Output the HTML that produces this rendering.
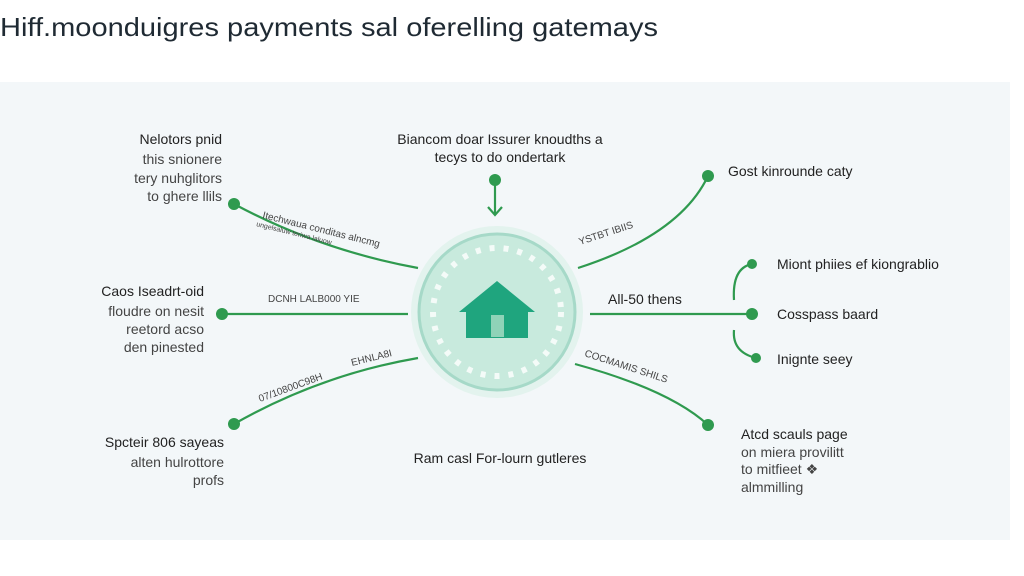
<!DOCTYPE html>
<html><head><meta charset="utf-8"><style>
html,body{margin:0;padding:0;width:1024px;height:576px;overflow:hidden;background:#fff;font-family:"Liberation Sans",sans-serif;}
svg{position:absolute;left:0;top:0}
</style></head><body>
<svg width="1024" height="576" viewBox="0 0 1024 576" font-family="Liberation Sans, sans-serif">
<rect x="0" y="0" width="1024" height="576" fill="#fff"/>
<rect x="0" y="82" width="1010" height="458" fill="#f3f7f9"/>
<text x="0" y="36" font-size="26" fill="#1f2a33" textLength="658" lengthAdjust="spacingAndGlyphs">Hiff.moonduigres payments sal oferelling gatemays</text>
<g stroke="#2f9a4f" stroke-width="2.2" fill="none">
<path d="M234 204 Q320 250 418 268"/>
<line x1="222" y1="314" x2="408" y2="314"/>
<path d="M234 424 Q320 375 418 358"/>
<path d="M578 268 Q680 235 708 176"/>
<line x1="590" y1="314" x2="752" y2="314"/>
<path d="M575 364 Q670 390 708 425"/>
<path d="M752 264 Q732 268 734 300"/>
<path d="M734 330 Q732 352 756 358"/>
<line x1="495" y1="180" x2="495" y2="214"/>
<path d="M488 207 L495 215 L502 207"/>
</g>
<g fill="#2f9a4f">
<circle cx="234" cy="204" r="6"/><circle cx="222" cy="314" r="6"/><circle cx="234" cy="424" r="6"/>
<circle cx="708" cy="176" r="6"/><circle cx="752" cy="314" r="6"/><circle cx="708" cy="425" r="6"/>
<circle cx="752" cy="264" r="5"/><circle cx="756" cy="358" r="5"/><circle cx="495" cy="180" r="6"/>
</g>
<circle cx="497" cy="312" r="86" fill="#e3f3ee"/>
<circle cx="497" cy="312" r="78" fill="#c8eadd" stroke="#a6d9c8" stroke-width="3"/>
<circle cx="497" cy="312" r="64" fill="none" stroke="#f4fbf8" stroke-width="6" stroke-dasharray="5 9"/>
<path d="M459 312 L497 281 L535 312 L528 312 L528 338 L466 338 L466 312 Z" fill="#1fa57e"/>
<rect x="491" y="315" width="13" height="22" fill="#8fd3b8"/>
<g font-size="14" fill="#222">
<text x="222" y="144" text-anchor="end">Nelotors pnid</text>
<text x="222" y="164" text-anchor="end" fill="#444">this snionere</text>
<text x="222" y="183" text-anchor="end" fill="#444">tery nuhglitors</text>
<text x="222" y="201" text-anchor="end" fill="#444">to ghere llils</text>
<text x="204" y="296" text-anchor="end">Caos Iseadrt-oid</text>
<text x="204" y="316" text-anchor="end" fill="#444">floudre on nesit</text>
<text x="204" y="334" text-anchor="end" fill="#444">reetord acso</text>
<text x="204" y="352" text-anchor="end" fill="#444">den pinested</text>
<text x="224" y="447" text-anchor="end">Spcteir 806 sayeas</text>
<text x="224" y="467" text-anchor="end" fill="#444">alten hulrottore</text>
<text x="224" y="485" text-anchor="end" fill="#444">profs</text>
<text x="500" y="144" text-anchor="middle">Biancom doar Issurer knoudths a</text>
<text x="500" y="162" text-anchor="middle">tecys to do ondertark</text>
<text x="728" y="176">Gost kinrounde caty</text>
<text x="777" y="269">Miont phiies ef kiongrablio</text>
<text x="777" y="319">Cosspass baard</text>
<text x="777" y="364">Inignte seey</text>
<text x="608" y="304">All-50 thens</text>
<text x="500" y="463" text-anchor="middle">Ram casl For-lourn gutleres</text>
<text x="741" y="439">Atcd scauls page</text>
<text x="741" y="457" fill="#444">on miera provilitt</text>
<text x="741" y="474" fill="#444">to mitfieet ❖</text>
<text x="741" y="492" fill="#444">almmilling</text>
</g>
<g font-size="10" fill="#444">
<text x="268" y="302">DCNH LALB000 YIE</text>
<text transform="translate(262,218) rotate(14)">Itechwaua conditas alncmg</text>
<text transform="translate(256,226) rotate(14)" font-size="7">ungelsaluw teriwa laluow</text>
<text transform="translate(260,402) rotate(-20)">07/10800C98H</text>
<text transform="translate(352,366) rotate(-14)">EHNLA8I</text>
<text transform="translate(580,245) rotate(-18)">YSTBT IBIIS</text>
<text transform="translate(584,356) rotate(18)">COCMAMIS SHILS</text>
</g>
</svg>
</body></html>
